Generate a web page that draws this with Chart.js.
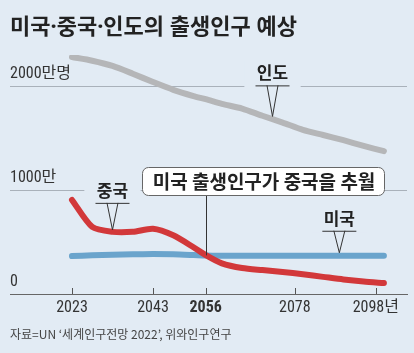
<!DOCTYPE html>
<html>
<head>
<meta charset="utf-8">
<script src="https://cdn.jsdelivr.net/npm/chart.js@4"></script>
<style>
html,body{margin:0;padding:0;background:#e2ebf4;}
#cont{width:414px;height:353px;position:relative;}
</style>
</head>
<body>
<div id="cont"><canvas id="grafico"></canvas></div>
<script>
// datos (만명)
var anios=[2023,2028,2033,2038,2043,2048,2053,2056,2060,2065,2070,2075,2080,2085,2090,2095,2100];
var india=[2280,2245,2195,2120,2040,1965,1905,1875,1830,1785,1715,1650,1580,1530,1480,1425,1375];
var china=[905,645,598,598,628,565,450,375,295,250,230,212,190,165,140,120,105];
var eeuu=[365,372,378,382,384,382,375,370,368,368,368,368,368,368,368,368,368];
var ticksX=[2023,2043,2056,2078,2098];
var ticksY=[0,1000,2000];
var etiquetasY={0:"0",1000:"1000만",2000:"2000만명"};

var fondo="#e2ebf4";
var kr="'Noto Sans CJK KR', sans-serif";
var num="'Liberation Sans Narrow', 'Roboto Condensed', 'Noto Sans CJK KR', sans-serif";

function serie(vals){
	return anios.map(function(a,i){return {x:a,y:vals[i]};});
}

function nota(c,tx,ty,texto,largo){
	var hy=ty-largo, cy=hy-12.5;
	c.save();
	c.font="bold 17px "+kr;
	var w=c.measureText(texto).width;
	c.fillStyle=fondo;
	c.fillRect(tx-w/2-12.5,cy-12,w+25,hy-cy+14);
	c.fillStyle="#222";
	c.textAlign="center";c.textBaseline="middle";
	c.fillText(texto,tx,cy);
	c.strokeStyle="#333";c.lineWidth=1;
	c.beginPath();
	c.moveTo(tx-17,hy+0.5);c.lineTo(tx+17,hy+0.5);
	c.moveTo(tx-5.5,hy);c.lineTo(tx,ty);c.lineTo(tx+5.5,hy);
	c.stroke();
	c.restore();
}

var adornos={
	id:'adornos',
	beforeDraw:function(chart){
		var c=chart.ctx;
		c.save();c.fillStyle=fondo;c.fillRect(0,0,chart.width,chart.height);c.restore();
	},
	afterDatasetsDraw:function(chart){
		var c=chart.ctx, x=chart.scales.x, y=chart.scales.y;
		// marcas del eje
		c.save();
		c.strokeStyle="#555";c.lineWidth=1;
		c.beginPath();
		ticksX.forEach(function(v){
			var px=Math.round(x.getPixelForValue(v))+0.5;
			c.moveTo(px,y.bottom);c.lineTo(px,y.bottom-6);
		});
		c.stroke();
		c.restore();

		nota(c,x.getPixelForValue(2072.5),y.getPixelForValue(1690)-2,"인도",31);
		nota(c,x.getPixelForValue(2033),y.getPixelForValue(598)-2,"중국",27);
		nota(c,x.getPixelForValue(2089),y.getPixelForValue(368)-3,"미국",22);

		// caja
		var px=Math.round(x.getPixelForValue(2056))+0.5;
		var cruce=y.getPixelForValue(372);
		c.save();
		c.strokeStyle="#333";c.lineWidth=1;
		c.beginPath();c.moveTo(px,195);c.lineTo(px,cruce);c.stroke();
		c.beginPath();
		c.roundRect(142.5,167.5,242,28,6);
		c.fillStyle="#fff";c.fill();
		c.strokeStyle="#666";c.stroke();
		c.fillStyle="#222";
		c.font="bold 19px "+kr;
		c.textAlign="center";c.textBaseline="middle";
		c.fillText("미국 출생인구가 중국을 추월",264,182);
		c.restore();
	},
	afterDraw:function(chart){
		var c=chart.ctx;
		c.save();
		c.fillStyle="#222";
		c.font="bold 22px 'Noto Sans', "+kr;
		c.textBaseline="middle";
		c.fillText("미국·중국·인도의 출생인구 예상",10,28);
		c.fillStyle="#444";
		c.font="12px "+kr;
		c.fillText("자료=UN ‘세계인구전망 2022’, 위와인구연구",10,334);
		c.restore();
	}
};

var grafico=new Chart(document.getElementById("grafico"),{
	type:'line',
	data:{
		datasets:[
			{label:"중국",data:serie(china),borderColor:"#d2383a",order:0},
			{label:"미국",data:serie(eeuu),borderColor:"#6aa4cc",order:1},
			{label:"인도",data:serie(india),borderColor:"#b5b6b8",order:2}
		]
	},
	options:{
		responsive:true,
		maintainAspectRatio:false,
		animation:false,
		layout:{padding:{left:10,right:7,top:55,bottom:35}},
		plugins:{legend:{display:false},tooltip:{enabled:false}},
		elements:{
			point:{radius:0},
			line:{tension:0.25,borderWidth:6,borderCapStyle:'round',borderJoinStyle:'round',fill:false}
		},
		scales:{
			x:{
				type:'linear',min:2007.7,max:2105.7,
				afterBuildTicks:function(s){s.ticks=ticksX.map(function(v){return {value:v};});},
				afterFit:function(s){s.height=24;},
				grid:{drawOnChartArea:false,drawTicks:false},
				border:{display:true,color:"#666",width:1},
				ticks:{
					autoSkip:false,maxRotation:0,padding:4,color:"#333",
					callback:function(v){return v===2098?"2098년":String(v);},
					font:function(ctx){
						return {family:num,size:16,weight:(ctx.tick&&ctx.tick.value===2056)?'bold':'normal'};
					}
				}
			},
			y:{
				min:0,max:2300,
				afterBuildTicks:function(s){s.ticks=ticksY.map(function(v){return {value:v};});},
				afterFit:function(s){s.width=0;},
				grid:{drawTicks:false,color:function(ctx){return ctx.tick&&ctx.tick.value===0?'rgba(0,0,0,0)':'#a9b1ba';}},
				border:{display:false},
				ticks:{
					mirror:true,padding:0,labelOffset:-12,color:"#333",
					font:{family:num,size:16},
					callback:function(v){return etiquetasY[v];}
				}
			}
		}
	},
	plugins:[adornos]
});
</script>
</body>
</html>
